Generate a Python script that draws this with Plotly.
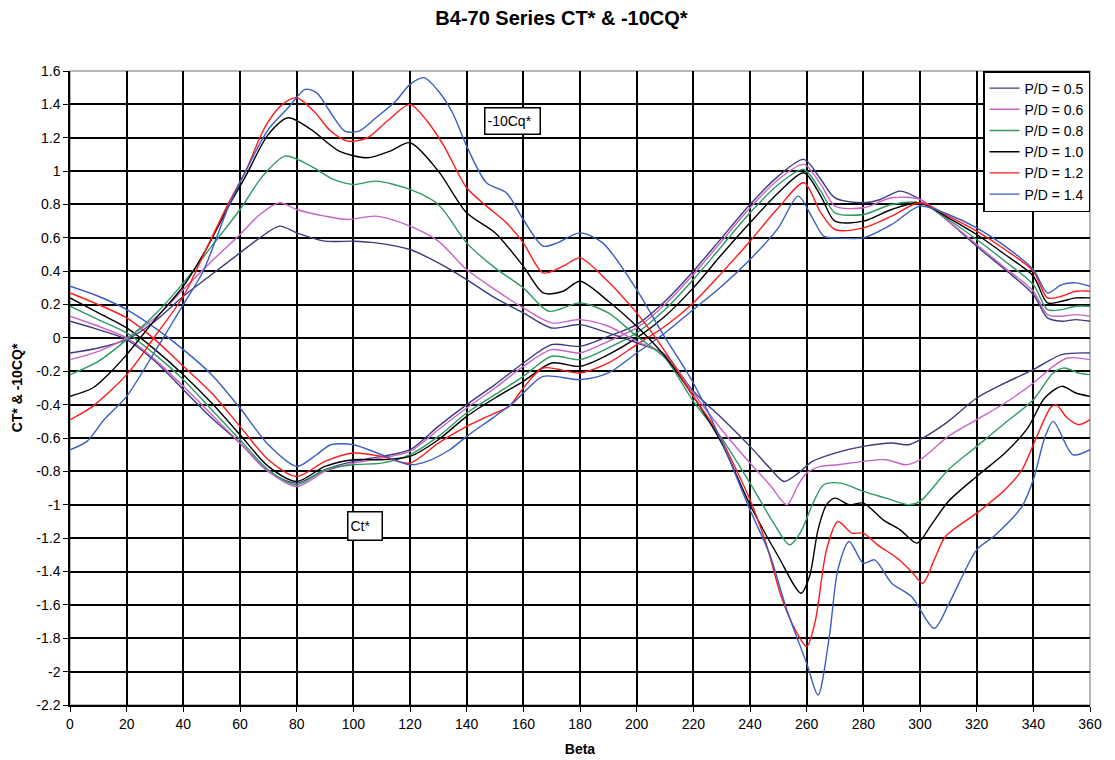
import plotly.graph_objects as go

# ---------------- data ----------------
series_names = ["P/D = 0.5", "P/D = 0.6", "P/D = 0.8", "P/D = 1.0", "P/D = 1.2", "P/D = 1.4"]
series_colors = ["#3b3b7e", "#c864c8", "#2e9a62", "#000000", "#ff1a1a", "#3a5cc4"]

# CT* curves
ct_05_beta = [0, 10, 20, 30, 40, 50, 60, 70, 80, 90, 100, 110, 120, 130, 140, 150, 160, 170, 180, 190, 200, 210, 220, 230, 240, 250, 259, 265, 270, 280, 286, 293, 300, 310, 320, 330, 340, 345, 350, 355, 360]
ct_05 = [0.10, 0.05, -0.01, -0.14, -0.31, -0.48, -0.63, -0.80, -0.87, -0.79, -0.74, -0.71, -0.67, -0.53, -0.40, -0.28, -0.15, -0.04, -0.05, 0.01, 0.08, 0.22, 0.40, 0.60, 0.80, 0.97, 1.07, 0.95, 0.84, 0.81, 0.83, 0.88, 0.83, 0.70, 0.55, 0.41, 0.26, 0.12, 0.10, 0.11, 0.10]

ct_06_beta = [0, 10, 20, 30, 40, 50, 60, 70, 80, 90, 100, 110, 120, 130, 140, 150, 160, 170, 180, 190, 200, 210, 220, 230, 240, 250, 259, 265, 270, 280, 290, 300, 310, 320, 330, 340, 345, 350, 355, 360]
ct_06 = [0.13, 0.07, 0.00, -0.13, -0.29, -0.46, -0.63, -0.80, -0.89, -0.80, -0.75, -0.72, -0.68, -0.55, -0.42, -0.30, -0.17, -0.07, -0.09, -0.02, 0.06, 0.20, 0.38, 0.58, 0.78, 0.95, 1.04, 0.92, 0.79, 0.78, 0.84, 0.83, 0.70, 0.56, 0.42, 0.28, 0.14, 0.13, 0.14, 0.13]

ct_08_beta = [0, 10, 20, 30, 40, 50, 60, 70, 80, 90, 100, 110, 120, 130, 140, 150, 160, 170, 180, 190, 200, 210, 220, 230, 240, 250, 259, 265, 270, 280, 290, 300, 310, 320, 330, 340, 345, 350, 355, 360]
ct_08 = [0.19, 0.11, 0.03, -0.10, -0.25, -0.43, -0.61, -0.79, -0.88, -0.79, -0.76, -0.75, -0.70, -0.59, -0.45, -0.34, -0.23, -0.11, -0.13, -0.06, 0.03, 0.17, 0.35, 0.55, 0.75, 0.92, 1.01, 0.88, 0.75, 0.74, 0.80, 0.81, 0.71, 0.59, 0.46, 0.32, 0.17, 0.17, 0.19, 0.19]

ct_10_beta = [0, 10, 20, 30, 40, 50, 60, 70, 80, 90, 100, 110, 120, 130, 140, 150, 160, 170, 180, 190, 200, 210, 220, 230, 240, 250, 259, 265, 270, 280, 290, 300, 310, 320, 330, 340, 345, 350, 355, 360]
ct_10 = [0.24, 0.15, 0.06, -0.07, -0.22, -0.39, -0.58, -0.77, -0.86, -0.77, -0.73, -0.73, -0.71, -0.61, -0.47, -0.36, -0.26, -0.15, -0.17, -0.10, 0.00, 0.13, 0.30, 0.50, 0.69, 0.87, 0.99, 0.85, 0.70, 0.70, 0.77, 0.81, 0.72, 0.62, 0.50, 0.37, 0.21, 0.22, 0.24, 0.24]

ct_12_beta = [0, 10, 20, 30, 40, 50, 60, 70, 80, 90, 100, 110, 120, 130, 140, 150, 155, 160, 167, 180, 190, 200, 210, 220, 230, 240, 250, 259, 265, 270, 280, 290, 300, 310, 320, 330, 340, 345, 350, 355, 360]
ct_12 = [0.27, 0.20, 0.12, -0.01, -0.17, -0.33, -0.53, -0.73, -0.83, -0.74, -0.69, -0.71, -0.75, -0.63, -0.53, -0.45, -0.41, -0.30, -0.18, -0.21, -0.15, -0.04, 0.07, 0.21, 0.39, 0.58, 0.78, 0.93, 0.75, 0.65, 0.66, 0.73, 0.81, 0.73, 0.64, 0.53, 0.40, 0.24, 0.25, 0.28, 0.28]

ct_14_beta = [0, 10, 20, 30, 40, 50, 60, 70, 80, 87, 92, 100, 110, 120, 126, 134, 140, 150, 157, 160, 167, 180, 190, 200, 210, 220, 230, 240, 250, 257, 262, 266, 270, 280, 290, 300, 310, 320, 330, 340, 345, 350, 355, 360]
ct_14 = [0.31, 0.25, 0.17, 0.06, -0.07, -0.22, -0.42, -0.64, -0.77, -0.70, -0.64, -0.64, -0.70, -0.76, -0.74, -0.67, -0.59, -0.47, -0.38, -0.33, -0.23, -0.25, -0.21, -0.09, 0.03, 0.17, 0.31, 0.47, 0.66, 0.85, 0.72, 0.61, 0.60, 0.60, 0.68, 0.79, 0.74, 0.66, 0.55, 0.41, 0.27, 0.32, 0.33, 0.31]

# -10CQ* curves
cq_05_beta = [0, 10, 20, 30, 40, 50, 60, 67, 74, 80, 90, 100, 108, 120, 130, 140, 150, 160, 170, 180, 190, 200, 210, 220, 230, 240, 247, 252, 257, 262, 270, 280, 290, 296, 300, 310, 320, 330, 340, 350, 360]
cq_05 = [-0.09, -0.06, -0.01, 0.10, 0.25, 0.38, 0.51, 0.60, 0.67, 0.63, 0.58, 0.58, 0.57, 0.53, 0.45, 0.35, 0.24, 0.15, 0.06, 0.08, 0.03, -0.03, -0.10, -0.32, -0.48, -0.65, -0.78, -0.86, -0.81, -0.74, -0.69, -0.65, -0.63, -0.64, -0.61, -0.50, -0.36, -0.27, -0.19, -0.10, -0.09]

cq_06_beta = [0, 10, 20, 30, 40, 50, 60, 67, 74, 80, 90, 98, 108, 120, 130, 140, 150, 160, 170, 180, 190, 200, 210, 220, 230, 240, 247, 253, 257, 260, 265, 271, 280, 288, 295, 300, 310, 320, 330, 340, 347, 352, 360]
cq_06 = [-0.13, -0.08, 0.00, 0.12, 0.29, 0.46, 0.62, 0.74, 0.81, 0.77, 0.73, 0.71, 0.73, 0.67, 0.58, 0.41, 0.29, 0.18, 0.09, 0.11, 0.07, -0.02, -0.10, -0.33, -0.55, -0.75, -0.88, -1.00, -0.88, -0.81, -0.77, -0.76, -0.74, -0.73, -0.76, -0.73, -0.59, -0.49, -0.39, -0.27, -0.17, -0.12, -0.13]

cq_08_beta = [0, 10, 20, 30, 40, 50, 60, 68, 76, 85, 93, 100, 108, 120, 130, 140, 150, 160, 169, 180, 190, 200, 210, 220, 230, 240, 248, 254, 258, 262, 266, 272, 280, 288, 296, 300, 310, 320, 330, 340, 347, 351, 356, 360]
cq_08 = [-0.22, -0.14, -0.01, 0.14, 0.33, 0.55, 0.77, 0.97, 1.09, 1.03, 0.95, 0.92, 0.94, 0.89, 0.80, 0.57, 0.42, 0.30, 0.16, 0.21, 0.15, 0.01, -0.12, -0.38, -0.60, -0.87, -1.10, -1.24, -1.16, -1.00, -0.88, -0.87, -0.92, -0.96, -1.00, -0.98, -0.79, -0.65, -0.51, -0.37, -0.21, -0.18, -0.21, -0.22]

cq_10_beta = [0, 8, 14, 20, 30, 40, 48, 56, 62, 70, 77, 85, 95, 105, 113, 120, 130, 140, 150, 160, 167, 174, 180, 190, 200, 210, 220, 230, 240, 250, 258, 261, 264, 267, 270, 275, 280, 287, 293, 299, 304, 310, 320, 330, 338, 344, 350, 355, 360]
cq_10 = [-0.35, -0.30, -0.21, -0.10, 0.11, 0.31, 0.53, 0.79, 0.97, 1.22, 1.32, 1.25, 1.12, 1.08, 1.12, 1.17, 1.00, 0.75, 0.63, 0.43, 0.27, 0.28, 0.34, 0.22, 0.07, -0.11, -0.35, -0.63, -1.00, -1.31, -1.53, -1.43, -1.15, -1.00, -0.96, -1.00, -0.99, -1.09, -1.15, -1.23, -1.12, -0.98, -0.83, -0.69, -0.54, -0.36, -0.29, -0.33, -0.35]

cq_12_beta = [0, 8, 20, 30, 40, 48, 56, 62, 69, 75, 80, 86, 92, 98, 105, 112, 120, 126, 132, 140, 147, 154, 160, 167, 174, 180, 188, 200, 210, 220, 228, 240, 246, 251, 256, 260, 263, 267, 271, 276, 280, 285, 292, 297, 301, 305, 309, 320, 330, 336, 341, 346, 348, 352, 356, 360]
cq_12 = [-0.49, -0.41, -0.22, 0.01, 0.25, 0.53, 0.81, 1.00, 1.27, 1.40, 1.44, 1.36, 1.24, 1.18, 1.20, 1.30, 1.40, 1.30, 1.15, 0.90, 0.79, 0.69, 0.57, 0.39, 0.43, 0.48, 0.37, 0.15, -0.08, -0.35, -0.55, -0.97, -1.25, -1.55, -1.75, -1.85, -1.70, -1.27, -1.10, -1.17, -1.17, -1.24, -1.32, -1.40, -1.47, -1.33, -1.19, -1.05, -0.91, -0.79, -0.60, -0.42, -0.40, -0.48, -0.52, -0.49]

cq_14_beta = [0, 6, 12, 20, 30, 40, 47, 56, 62, 70, 77, 83, 87, 92, 97, 102, 108, 115, 120, 125, 130, 135, 140, 147, 154, 160, 167, 172, 180, 188, 200, 209, 220, 230, 240, 247, 253, 260, 264, 268, 271, 275, 280, 284, 290, 297, 305, 310, 320, 326, 336, 340, 344, 347, 354, 360]
cq_14 = [-0.67, -0.62, -0.49, -0.35, -0.08, 0.20, 0.40, 0.79, 1.00, 1.25, 1.38, 1.49, 1.47, 1.35, 1.24, 1.24, 1.32, 1.42, 1.52, 1.56, 1.48, 1.35, 1.15, 0.93, 0.87, 0.71, 0.55, 0.57, 0.63, 0.57, 0.29, 0.03, -0.27, -0.62, -1.03, -1.30, -1.63, -1.95, -2.14, -1.79, -1.39, -1.22, -1.35, -1.33, -1.47, -1.55, -1.74, -1.60, -1.27, -1.19, -1.01, -0.85, -0.60, -0.50, -0.70, -0.67]

x_tick_vals = list(range(0, 361, 20))
y_tick_vals = [1.6, 1.4, 1.2, 1.0, 0.8, 0.6, 0.4, 0.2, 0.0, -0.2, -0.4, -0.6, -0.8, -1.0, -1.2, -1.4, -1.6, -1.8, -2.0, -2.2]
y_tick_labels = ["1.6", "1.4", "1.2", "1", "0.8", "0.6", "0.4", "0.2", "0", "-0.2", "-0.4", "-0.6", "-0.8", "-1", "-1.2", "-1.4", "-1.6", "-1.8", "-2", "-2.2"]

ct_betas = [ct_05_beta, ct_06_beta, ct_08_beta, ct_10_beta, ct_12_beta, ct_14_beta]
ct_vals = [ct_05, ct_06, ct_08, ct_10, ct_12, ct_14]
cq_betas = [cq_05_beta, cq_06_beta, cq_08_beta, cq_10_beta, cq_12_beta, cq_14_beta]
cq_vals = [cq_05, cq_06, cq_08, cq_10, cq_12, cq_14]

FONT = "Arial, 'Liberation Sans', sans-serif"
FIG_W, FIG_H = 1107, 752   # page body adds an 8px margin

fig = go.Figure()
for i, name in enumerate(series_names):
    fig.add_trace(go.Scatter(
        x=ct_betas[i], y=ct_vals[i], mode="lines", name=name,
        legendgroup=name, showlegend=True,
        line=dict(color=series_colors[i], width=1.4, shape="spline", smoothing=0.8),
    ))
for i, name in enumerate(series_names):
    fig.add_trace(go.Scatter(
        x=cq_betas[i], y=cq_vals[i], mode="lines", name=name,
        legendgroup=name, showlegend=False,
        line=dict(color=series_colors[i], width=1.4, shape="spline", smoothing=0.8),
    ))

fig.update_layout(
    width=FIG_W, height=FIG_H,
    margin=dict(l=62, r=25, t=63, b=55),
    paper_bgcolor="white", plot_bgcolor="white",
    font=dict(family=FONT, size=14, color="black"),
    title=dict(text="<b>B4-70 Series CT* &amp; -10CQ*</b>", x=0.5, xanchor="center",
               y=1 - 10 / FIG_H, yanchor="middle", yref="container",
               font=dict(family=FONT, size=20, color="black")),
    showlegend=True,
    legend=dict(x=1, xanchor="right", y=1, yanchor="top",
                bgcolor="white", bordercolor="black", borderwidth=1.5,
                font=dict(family=FONT, size=14, color="black"),
                itemwidth=30, tracegroupgap=0),
    shapes=[dict(type="rect", xref="paper", yref="paper", x0=0, x1=1, y0=0, y1=1,
                 line=dict(color="#a0a0a0", width=1.5), layer="between")],
    annotations=[
        dict(x=156, y=1.30, xref="x", yref="y", text="-10Cq*", showarrow=False,
             width=50, height=21, align="left", valign="middle",
             bordercolor="black", borderwidth=1.5, bgcolor="white", borderpad=2,
             font=dict(family=FONT, size=14, color="black")),
        dict(x=104.2, y=-1.13, xref="x", yref="y", text="Ct*", showarrow=False,
             width=29, height=23, align="left", valign="middle",
             bordercolor="black", borderwidth=1.5, bgcolor="white", borderpad=2,
             font=dict(family=FONT, size=14, color="black")),
    ],
)

fig.update_xaxes(
    range=[0, 360], tickvals=x_tick_vals, showgrid=True, gridcolor="black", gridwidth=1.6,
    showline=True, linecolor="black", linewidth=1.5, ticks="outside", ticklen=5,
    tickcolor="black", tickfont=dict(family=FONT, size=14, color="black"),
    zeroline=False, automargin=False,
    title=dict(text="<b>Beta</b>", font=dict(family=FONT, size=14, color="black"), standoff=14),
)
fig.update_yaxes(
    range=[-2.2, 1.6], tickvals=y_tick_vals, ticktext=y_tick_labels,
    showgrid=True, gridcolor="black", gridwidth=1.6,
    showline=True, linecolor="black", linewidth=1.5, ticks="outside", ticklen=5,
    tickcolor="black", tickfont=dict(family=FONT, size=14, color="black"),
    zeroline=False, automargin=False,
    title=dict(text="<b>CT* &amp; -10CQ*</b>", font=dict(family=FONT, size=14, color="black"), standoff=10),
)

fig.write_html("out.html")
